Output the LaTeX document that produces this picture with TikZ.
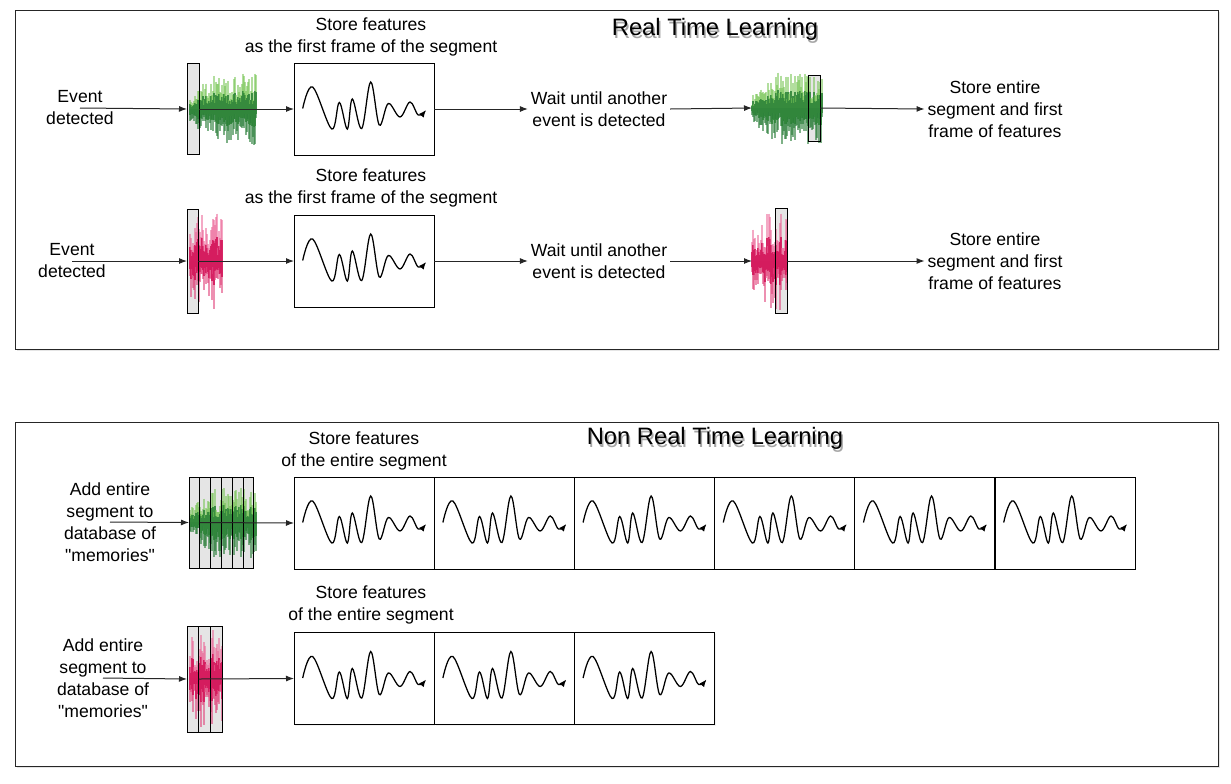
\documentclass[tikz,border=0pt]{standalone}
\usepackage{fontspec}
\setmainfont{Liberation Sans}[Ligatures=TeXOff]
\usetikzlibrary{arrows.meta,shadows}
\definecolor{gwtop}{RGB}{115,195,80}
\definecolor{gwbot}{RGB}{40,125,55}
\definecolor{gwcore}{RGB}{50,135,60}
\definecolor{pwtop}{RGB}{235,100,150}
\definecolor{pwbot}{RGB}{225,70,125}
\definecolor{pwcore}{RGB}{212,25,92}
% #1 x0, #2 yc, #3 width, #4 amplitude, #5 start fraction, #6 colour prefix, #7 seed, #8 exponent
\newcommand{\audiowave}[8]{%
  \pgfmathsetseed{#7}%
  \foreach \wi in {0,...,#3}{
    \pgfmathsetmacro{\wenv}{#4*min(1,#5+(1-#5)*3*\wi/#3)}
    \pgfmathsetmacro{\wa}{\wenv*(0.25+0.75*(rnd^#8))}
    \pgfmathsetmacro{\wb}{\wenv*(0.25+0.75*(rnd^#8))}
    \draw[#6top, line width=0.9pt, opacity=0.55] (#1+\wi,#2-\wa) -- (#1+\wi,#2);
    \draw[#6bot, line width=0.9pt, opacity=0.6] (#1+\wi,#2) -- (#1+\wi,#2+\wb);
    \draw[#6core, line width=0.9pt, opacity=0.9] (#1+\wi,#2-0.5*\wa) -- (#1+\wi,#2+0.5*\wb);
  }}
\begin{document}
\begin{tikzpicture}[x=0.75pt,y=-0.75pt,
  lbl/.style={font=\fontsize{13.2}{16.5}\selectfont, align=center, inner sep=2pt, text=black},
  ttl/.style={font=\fontsize{17.8}{20}\selectfont, inner sep=0pt},
  panel/.style={draw=black!85, line width=0.75pt, fill=white, inner sep=0, outer sep=0,
    drop shadow={shadow xshift=1.5pt, shadow yshift=-1.5pt, opacity=0.2}},
  bar/.style={draw=none, fill=black!10, inner sep=0, outer sep=0},
  barline/.style={draw=black, line width=0.75pt},
  featbox/.style={draw=black, line width=0.75pt, fill=white, inner sep=0, outer sep=0,
    minimum width=105pt, minimum height=69pt,
    drop shadow={shadow xshift=1pt, shadow yshift=-1pt, opacity=0.1}},
  zone/.style={inner sep=0, outer sep=0},
  arr/.style={draw=black!85, line width=0.75pt, -{Latex[length=6pt,width=4.5pt]}},
  sig/.pic={\draw[line width=0.95pt, -{Latex[length=5.5pt,width=4.5pt]}]
    plot[smooth, tension=0.6] coordinates {(8.7,-0.5) (18.7,-22) (37.7,20) (45.3,-6.5) (53.3,20)
      (58.3,-10) (67.7,19.5) (76.7,-27) (85.3,16) (94.3,-5.5) (106,8) (116,-7) (124.3,6) (132,1)};}
]
\fill[white] (0,0) rectangle (1231,783);
\useasboundingbox (0,0) rectangle (1231,783);

% panels
\node[panel, minimum width=902.25pt, minimum height=254.25pt] (p1) at (616.5,179.5) {};
\node[panel, minimum width=902.25pt, minimum height=258pt] (p2) at (616.5,594) {};

% titles with shadow
\node[ttl, text=black, opacity=0.35] (t1s) at (716.5,32.5) {Real Time Learning};
\node[ttl] (t1) at (715,29) {Real Time Learning};
\node[ttl, text=black, opacity=0.35] (t2s) at (716.5,441.5) {Non Real Time Learning};
\node[ttl] (t2) at (715,438) {Non Real Time Learning};

% bar fills (behind waves)
\node[bar, minimum width=9pt, minimum height=68.25pt] (bar1) at (193,109) {};
\node[bar, minimum width=9pt, minimum height=49.5pt] (bar1b) at (814,108) {};
\node[bar, minimum width=8.25pt, minimum height=78pt] (bar2) at (192.5,261) {};
\node[bar, minimum width=9pt, minimum height=78.75pt] (bar2b) at (781,261) {};
\foreach \k in {1,...,6}{
  \node[bar, minimum width=8.125pt, minimum height=68.25pt] (s1\k) at ({189+10.83*(\k-0.5)},522.5) {};
}
\foreach \k in {1,...,3}{
  \node[bar, minimum width=8.75pt, minimum height=79.5pt] (s2\k) at ({187+11.67*(\k-0.5)},679) {};
}

% audio waveforms
\audiowave{190}{109}{66}{36}{0.35}{gw}{11}{1}
\audiowave{752}{108}{70}{36}{0.35}{gw}{23}{1}
\audiowave{190}{261}{32}{50}{0.8}{pw}{37}{2}
\audiowave{752}{261}{35}{50}{0.8}{pw}{41}{2}
\audiowave{190}{522}{66}{36}{0.35}{gw}{53}{1}
\audiowave{190}{678}{32}{50}{0.8}{pw}{67}{2}

% bar outlines (over waves)
\foreach \n in {bar1,bar1b,bar2,bar2b,s11,s12,s13,s14,s15,s16,s21,s22,s23}{
  \draw[barline] (\n.south west) rectangle (\n.north east);
}

% ---------- Real time, row 1 ----------
\node[lbl] (ev1) at (80,108) {Event\\detected};
\node[featbox] (box1) at (364,109) {};
\pic at (box1.west) {sig};
\node[lbl] (st1) at (371,37) {Store features\\as the first frame of the segment};
\node[lbl] (wt1) at (599,109) {Wait until another\\event is detected};
\node[zone, minimum width=52.5pt, minimum height=52.5pt] (wz1) at (787,108) {};
\node[lbl] (sf1) at (995,109) {Store entire\\segment and first\\frame of features};
\draw[arr] (ev1.center) -- (bar1.west);
\draw[arr] (bar1.east) -- (box1.west);
\draw[arr] (box1.east) -- (wt1.west);
\draw[arr] (wt1.east) -- (wz1.west);
\draw[arr] (bar1b.east) -- (sf1.west);

% ---------- Real time, row 2 ----------
\node[lbl] (ev2) at (72,261) {Event\\detected};
\node[featbox] (box2) at (364,261) {};
\pic at (box2.west) {sig};
\node[lbl] (st2) at (371,188) {Store features\\as the first frame of the segment};
\node[lbl] (wt2) at (599,261) {Wait until another\\event is detected};
\node[zone, minimum width=27pt, minimum height=75pt] (wz2) at (770,261) {};
\node[lbl] (sf2) at (995,261) {Store entire\\segment and first\\frame of features};
\draw[arr] (ev2.center) -- (bar2.west);
\draw[arr] (bar2.east) -- (box2.west);
\draw[arr] (box2.east) -- (wt2.west);
\draw[arr] (wt2.east) -- (wz2.west);
\draw[arr] (bar2b.east) -- (sf2.west);

% ---------- Non real time, row 1 ----------
\node[lbl] (ad1) at (110,522) {Add entire\\segment to\\database of\\"memories"};
\foreach \k in {1,...,6}{
  \node[featbox] (b3\k) at ({364+140.2*(\k-1)},523) {};
  \pic at (b3\k.west) {sig};
}
\node[lbl] (st3) at (364,451) {Store features\\of the entire segment};
\draw[arr] (ad1.center) -- (s11.west);
\draw[arr] (s11.east) -- (b31.west);

% ---------- Non real time, row 2 ----------
\node[lbl] (ad2) at (103,678) {Add entire\\segment to\\database of\\"memories"};
\foreach \k in {1,...,3}{
  \node[featbox] (b4\k) at ({364+140.2*(\k-1)},678.5) {};
  \pic at (b4\k.west) {sig};
}
\node[lbl] (st4) at (371,605) {Store features\\of the entire segment};
\draw[arr] (ad2.center) -- (s21.west);
\draw[arr] (s21.east) -- (b41.west);
\end{tikzpicture}
\end{document}
